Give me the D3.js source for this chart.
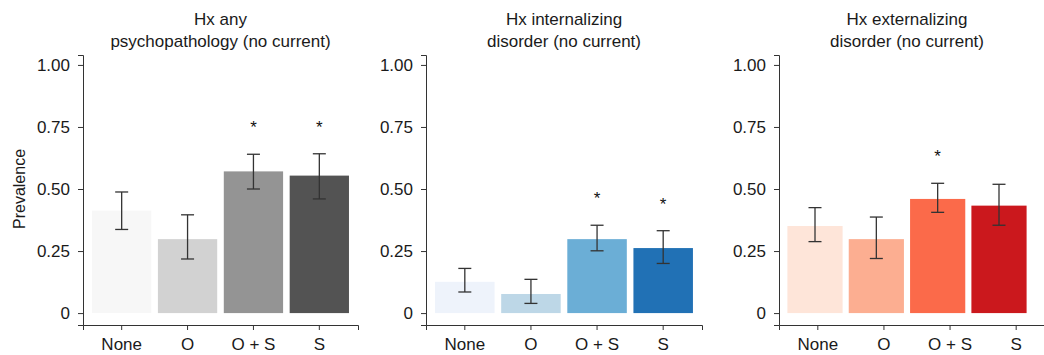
<!DOCTYPE html>
<html>
<head>
<meta charset="utf-8">
<script src="https://cdn.jsdelivr.net/npm/d3@7"></script>
<style>
  body { margin: 0; background: #fff; }
  svg { display: block; font-family: "Liberation Sans", Arial, sans-serif; }
  .axis path, .axis line { stroke: #333; }
  .axis text { fill: #1a1a1a; font-size: 17px; }
</style>
</head>
<body>
<svg id="chart" width="1044" height="355"></svg>
<script>
// groups on the x axis
var groups = ["None", "O", "O + S", "S"];
var yTicks = [0, 0.25, 0.5, 0.75, 1];

// panel titles (two lines each)
var titleAny = ["Hx any", "psychopathology (no current)"];
var titleInt = ["Hx internalizing", "disorder (no current)"];
var titleExt = ["Hx externalizing", "disorder (no current)"];

// prevalence + error bar bounds
var anyValues = [0.413, 0.298, 0.571, 0.554];
var anyLower  = [0.337, 0.218, 0.500, 0.460];
var anyUpper  = [0.488, 0.396, 0.640, 0.642];
var anySig    = [false, false, true, true];

var intValues = [0.126, 0.077, 0.298, 0.262];
var intLower  = [0.085, 0.039, 0.251, 0.200];
var intUpper  = [0.180, 0.136, 0.354, 0.332];
var intSig    = [false, false, true, true];

var extValues = [0.351, 0.298, 0.460, 0.433];
var extLower  = [0.288, 0.220, 0.406, 0.354];
var extUpper  = [0.425, 0.387, 0.523, 0.519];
var extSig    = [false, false, true, false];

// colour ramps (ColorBrewer 4-class)
var greys = ["#f7f7f7", "#d2d2d2", "#949494", "#535353"];
var blues = ["#eef3fb", "#bdd7e7", "#6baed6", "#2171b5"];
var reds  = ["#fee5d9", "#fcae91", "#fb6a4a", "#cb181d"];

var panels = [
    {title: titleAny, values: anyValues, lower: anyLower, upper: anyUpper, sig: anySig, colors: greys, x0: 83, axisW: 275, barW: 275},
    {title: titleInt, values: intValues, lower: intLower, upper: intUpper, sig: intSig, colors: blues, x0: 426, axisW: 276, barW: 276},
    {title: titleExt, values: extValues, lower: extLower, upper: extUpper, sig: extSig, colors: reds, x0: 779, axisW: 276, barW: 256}
];

var svg = d3.select("#chart");

// shared y scale: 0 -> 313px, 1 -> 65px, axis line runs a bit past both ends
var y = d3.scaleLinear().domain([-0.048, 1.04]).range([325, 55]);
var yFmt = function (d) { return d === 0 ? "0" : d3.format(".2f")(d); };

panels.forEach(function (p, i) {
    var xAxisScale = d3.scaleBand().domain(groups)
        .range([p.x0, p.x0 + p.axisW]).paddingInner(0.1).paddingOuter(0.137);
    var xBar = d3.scaleBand().domain(groups)
        .range([p.x0, p.x0 + p.barW]).paddingInner(0.1).paddingOuter(0.137);

    var g = svg.append("g").attr("class", "panel");

    // bars
    g.selectAll("rect.bar").data(groups).enter().append("rect")
        .attr("class", "bar")
        .attr("x", function (d) { return xBar(d); })
        .attr("width", xBar.bandwidth())
        .attr("y", function (d, j) { return y(p.values[j]); })
        .attr("height", function (d, j) { return y(0) - y(p.values[j]); })
        .attr("fill", function (d, j) { return p.colors[j]; });

    // error bars
    var eb = g.selectAll("g.err").data(groups).enter().append("g")
        .attr("class", "err")
        .attr("transform", function (d) { return "translate(" + (xBar(d) + xBar.bandwidth() / 2) + ",0)"; });
    eb.append("line")
        .attr("y1", function (d, j) { return y(p.lower[j]); })
        .attr("y2", function (d, j) { return y(p.upper[j]); })
        .attr("stroke", "#333").attr("stroke-width", 1.3);
    eb.append("line").attr("x1", -6.5).attr("x2", 6.5)
        .attr("y1", function (d, j) { return y(p.lower[j]); })
        .attr("y2", function (d, j) { return y(p.lower[j]); })
        .attr("stroke", "#333").attr("stroke-width", 1.3);
    eb.append("line").attr("x1", -6.5).attr("x2", 6.5)
        .attr("y1", function (d, j) { return y(p.upper[j]); })
        .attr("y2", function (d, j) { return y(p.upper[j]); })
        .attr("stroke", "#333").attr("stroke-width", 1.3);

    // significance stars
    eb.filter(function (d, j) { return p.sig[j]; })
        .append("text")
        .attr("y", function (d) { return y(p.upper[groups.indexOf(d)]) - 21; })
        .attr("text-anchor", "middle")
        .style("font-size", "17px")
        .attr("fill", "#111")
        .text("*");

    // axes
    g.append("g").attr("class", "axis")
        .attr("transform", "translate(" + p.x0 + ",0)")
        .call(d3.axisLeft(y).tickValues(yTicks).tickFormat(yFmt).tickSizeOuter(0).tickSize(5).tickPadding(8));
    g.append("g").attr("class", "axis")
        .attr("transform", "translate(0," + y(-0.048) + ")")
        .call(d3.axisBottom(xAxisScale).tickSizeOuter(0).tickSize(5).tickPadding(8));

    // title
    var cx = p.x0 + p.barW / 2;
    g.selectAll("text.title").data(p.title).enter().append("text")
        .attr("class", "title")
        .attr("x", cx)
        .attr("y", function (d, k) { return 25 + k * 22; })
        .attr("text-anchor", "middle")
        .style("font-size", "17px")
        .attr("fill", "#1a1a1a")
        .text(function (d) { return d; });

    if (i === 0) {
        g.append("text")
            .attr("transform", "translate(25," + y(0.5) + ") rotate(-90)")
            .attr("text-anchor", "middle")
            .style("font-size", "16px")
            .attr("fill", "#1a1a1a")
            .text("Prevalence");
    }
});
</script>
</body>
</html>
